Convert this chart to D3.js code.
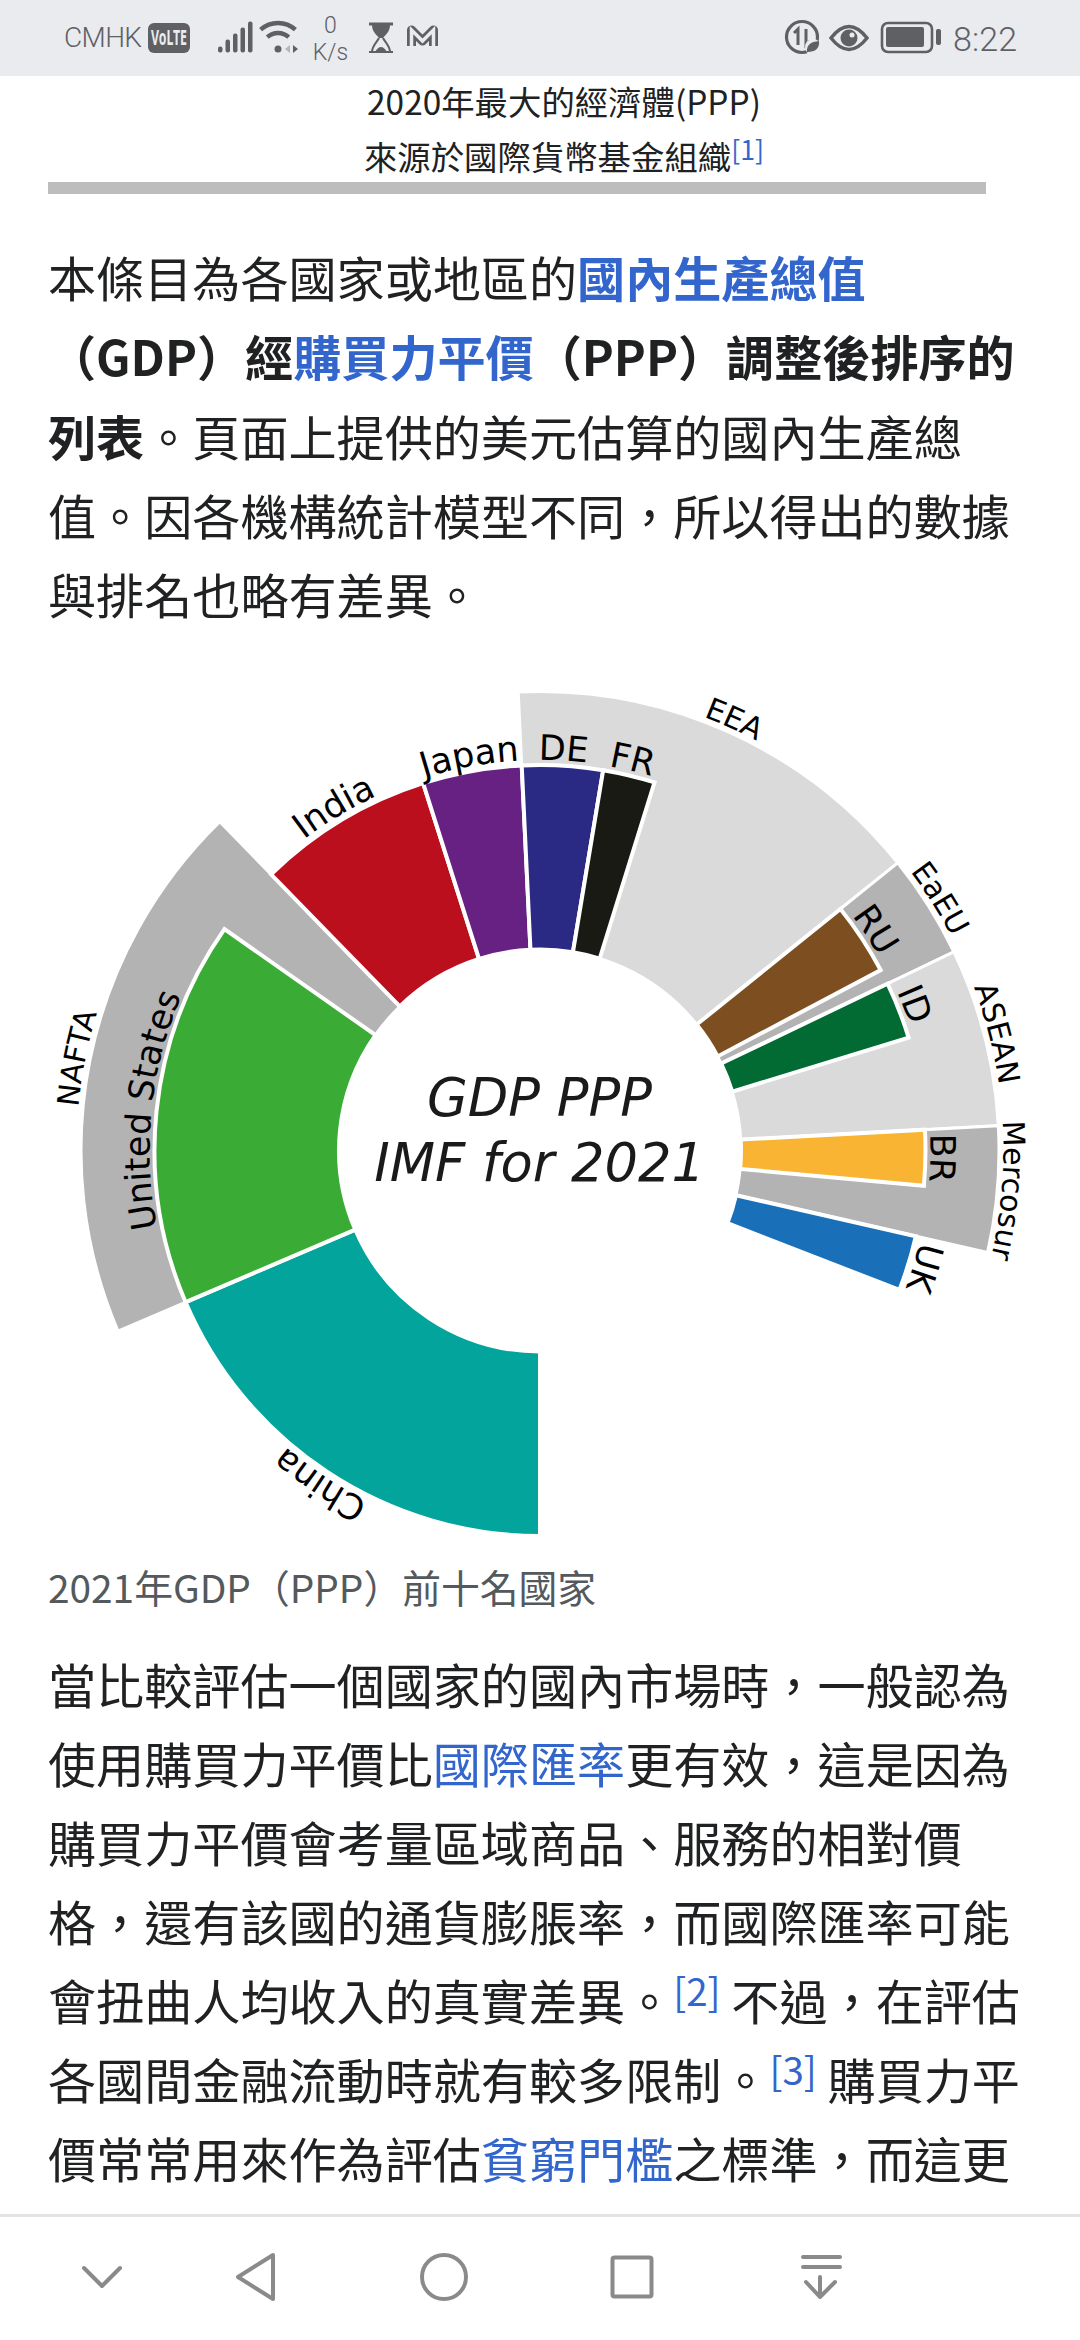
<!DOCTYPE html>
<html>
<head>
<meta charset="utf-8">
<script src="https://cdn.jsdelivr.net/npm/d3@7"></script>
<style>
  html, body { margin: 0; padding: 0; background: #fff; }
  svg { display: block; }
  text { white-space: pre; }
</style>
</head>
<body>
<div id="page"></div>
<script>
/// DATA: one row per slice (trillion USD, PPP)
const sliceNames = ['China', 'United States', '', 'India', 'Japan', 'DE', 'FR', '', 'RU', '', 'ID', '', 'BR', '', 'UK'];
const sliceGdp = [26.4, 23.0, 4.23, 10.5, 5.9, 4.8, 3.1, 13.4, 4.3, 0.9, 3.4, 5.5, 3.3, 3.0, 3.3];
const sliceBloc = ['', 'NAFTA', 'NAFTA', '', '', 'EEA', 'EEA', 'EEA', 'EaEU', 'EaEU', 'ASEAN', 'ASEAN', 'Mercosur', 'Mercosur', ''];
const sliceColors = ['#02a49c', '#3aab35', '', '#bb0f1e', '#662182', '#2a2a85', '#1a1a15', '', '#7c4e20', '', '#026a33', '', '#f8b432', '', '#1a70b8'];
const blocNames = ['NAFTA', 'EEA', 'EaEU', 'ASEAN', 'Mercosur'];
const blocColors = ['#b3b3b3', '#dadada', '#b3b3b3', '#dadada', '#b3b3b3'];
const centerLines = ['GDP PPP', 'IMF for 2021'];

/// PAGE TEXT: [text, kind] with kind b = bold, l = link, bl = bold link, s = footnote
const titleLines = [
  [['2020年最大的經濟體(PPP)', '']],
  [['來源於國際貨幣基金組織', ''], ['[1]', 's']]
];
const introLines = [
  [['本條目為各國家或地區的', ''], ['國內生產總值', 'bl']],
  [['（GDP）經', 'b'], ['購買力平價', 'bl'], ['（PPP）調整後排序的', 'b']],
  [['列表', 'b'], ['。頁面上提供的美元估算的國內生產總', '']],
  [['值。因各機構統計模型不同，所以得出的數據', '']],
  [['與排名也略有差異。', '']]
];
const bodyLines = [
  [['當比較評估一個國家的國內市場時，一般認為', '']],
  [['使用購買力平價比', ''], ['國際匯率', 'l'], ['更有效，這是因為', '']],
  [['購買力平價會考量區域商品、服務的相對價', '']],
  [['格，還有該國的通貨膨脹率，而國際匯率可能', '']],
  [['會扭曲人均收入的真實差異。', ''], ['[2]', 's'], [' 不過，在評估', '']],
  [['各國間金融流動時就有較多限制。', ''], ['[3]', 's'], [' 購買力平', '']],
  [['價常常用來作為評估', ''], ['貧窮門檻', 'l'], ['之標準，而這更', '']]
];
const captionText = '2021年GDP（PPP）前十名國家';

const width = 1080, height = 2340;
const cjk = '"Noto Sans CJK TC", "Noto Sans", sans-serif';
const latin = '"DejaVu Sans", sans-serif';
const inkColor = '#202122', linkColor = '#3366cc', chromeColor = '#5f6064', barColor = '#e9ebef', navColor = '#8a8a8a';

let svg = d3.select('#page').append('svg')
  .attr('width', width)
  .attr('height', height)
  .attr('viewBox', `0 0 ${width} ${height}`);

svg.append('rect').attr('width', width).attr('height', height).attr('fill', '#fff');

/// TEXT helper, footnotes get raised and the next piece comes back down
function writeLine(parent, pieces, x, y, size, anchor) {
  let line = parent.append('text')
    .attr('x', x)
    .attr('y', y)
    .attr('text-anchor', anchor || 'start')
    .style('font-family', cjk)
    .style('font-size', size + 'px')
    .attr('fill', inkColor);
  let raised = 0;
  pieces.forEach(([txt, kind]) => {
    let lift = kind === 's' ? size * 0.3 : 0;
    line.append('tspan')
      .text(txt)
      .attr('dy', raised - lift)
      .style('font-weight', kind === 'b' || kind === 'bl' ? 700 : 400)
      .style('font-size', kind === 's' ? size * 0.8 + 'px' : null)
      .attr('fill', kind === 'l' || kind === 'bl' || kind === 's' ? linkColor : inkColor);
    raised = lift;
  });
  return line;
}

let pageText = svg.append('g').attr('class', 'page');
titleLines.forEach((l, i) => writeLine(pageText, l, 564, 115 + i * 55, 33.4, 'middle'));
pageText.append('rect').attr('x', 48).attr('y', 182).attr('width', 938).attr('height', 12).attr('fill', '#bdbdbd');
introLines.forEach((l, i) => writeLine(pageText, l, 48, 297 + i * 79.3, 48.1));
pageText.append('text')
  .text(captionText)
  .attr('x', 48)
  .attr('y', 1603)
  .style('font-family', cjk)
  .style('font-size', '38.8px')
  .attr('fill', '#54595d');
bodyLines.forEach((l, i) => writeLine(pageText, l, 48, 1704 + i * 79, 48.1));
// next line is hidden behind the nav bar, only the footnote top peeks out
writeLine(pageText, [['[4]', '']], 868, 2244, 34.5).selectAll('tspan').attr('fill', linkColor);

/// SETUP chart
const cx = 540, cy = 1150.5;
const innerR = 201, sliceR = 385.5, blocR = 459, sliceLabelR = 390.5, blocLabelR = 463.5;
const startDeg = 180, endDeg = 471.2;
const rad = d => d * Math.PI / 180;

let chart = svg.append('g').attr('transform', `translate(${cx},${cy})`);
let defs = svg.append('defs');

let slices = d3.pie()
  .sort(null)
  .value(d => d)
  .startAngle(rad(startDeg))
  .endAngle(rad(endDeg))(sliceGdp)
  .map((p, i) => ({
    name: sliceNames[i],
    bloc: sliceBloc[i],
    color: sliceColors[i],
    startAngle: p.startAngle,
    endAngle: p.endAngle
  }));

let blocs = blocNames.map((name, i) => {
  let rows = slices.filter(s => s.bloc === name);
  return {
    name: name,
    color: blocColors[i],
    startAngle: d3.min(rows, s => s.startAngle),
    endAngle: d3.max(rows, s => s.endAngle)
  };
});

let countries = slices.filter(s => s.name !== '');

let blocArc = d3.arc().innerRadius(innerR).outerRadius(blocR);
let sliceArc = d3.arc().innerRadius(innerR).outerRadius(sliceR);

/// BUILD rings
chart.append('g').selectAll('path')
  .data(blocs)
  .join('path')
  .attr('d', blocArc)
  .attr('fill', d => d.color)
  .attr('stroke', '#fff')
  .attr('stroke-width', 3);

chart.append('g').selectAll('path')
  .data(countries)
  .join('path')
  .attr('d', sliceArc)
  .attr('fill', d => d.color)
  .attr('stroke', '#fff')
  .attr('stroke-width', 4);

/// LABELS run clockwise on a hidden arc, so China ends up upside down
function arcLabels(rows, radius, size, prefix) {
  rows.forEach((d, i) => {
    let mid = (d.startAngle + d.endAngle) / 2 - Math.PI / 2;
    let p = d3.path();
    p.arc(0, 0, radius, mid - Math.PI / 2, mid + Math.PI / 2);
    defs.append('path').attr('id', prefix + i).attr('d', p.toString());
    chart.append('text')
      .style('font-family', latin)
      .style('font-size', size + 'px')
      .attr('fill', '#000')
      .append('textPath')
      .attr('href', '#' + prefix + i)
      .attr('startOffset', '50%')
      .attr('text-anchor', 'middle')
      .text(d.name);
  });
}
arcLabels(blocs, blocLabelR, 30, 'bloc');
arcLabels(countries, sliceLabelR, 35, 'slice');

chart.selectAll('.center')
  .data(centerLines)
  .join('text')
  .attr('class', 'center')
  .text(d => d)
  .attr('x', -0.5)
  .attr('y', (d, i) => -34.5 + i * 64.5)
  .attr('text-anchor', 'middle')
  .style('font-family', latin)
  .style('font-style', 'oblique')
  .style('font-size', '52.6px')
  .attr('fill', '#1a1a1a');

/// STATUS BAR
let statusBar = svg.append('g').attr('class', 'status');
statusBar.append('rect').attr('width', width).attr('height', 76).attr('fill', barColor);
const chromeText = (t, x, y, size, anchor) => statusBar.append('text')
  .text(t).attr('x', x).attr('y', y)
  .attr('text-anchor', anchor || 'start')
  .style('font-family', 'Roboto, sans-serif')
  .style('font-weight', 300)
  .style('font-size', size + 'px')
  .attr('fill', chromeColor);
const outline = sel => sel.attr('fill', 'none').attr('stroke', chromeColor);

chromeText('CMHK', 64, 47, 28).attr('textLength', 78);
statusBar.append('rect').attr('x', 148).attr('y', 23).attr('width', 42).attr('height', 30).attr('rx', 6).attr('fill', chromeColor);
statusBar.append('text').text('VoLTE').attr('x', 169).attr('y', 45).attr('text-anchor', 'middle')
  .attr('textLength', 36).attr('lengthAdjust', 'spacingAndGlyphs')
  .style('font-family', '"Liberation Sans Narrow", "Noto Sans", sans-serif').style('font-weight', 700).style('font-size', '21px').attr('fill', barColor);
statusBar.selectAll('.sig').data([6, 13, 19, 25, 31]).join('rect')
  .attr('class', 'sig')
  .attr('x', (d, i) => 218 + i * 7.5).attr('y', d => 52.5 - d)
  .attr('width', 4.5).attr('height', d => d).attr('rx', 2).attr('fill', chromeColor);
statusBar.selectAll('.wifi').data([16, 26]).join('path')
  .attr('class', 'wifi')
  .attr('d', d => { let p = d3.path(); p.arc(278, 49, d, rad(-132), rad(-48)); return p.toString(); })
  .call(outline).attr('stroke-width', 4.5);
statusBar.append('circle').attr('cx', 278).attr('cy', 49).attr('r', 3.5).attr('fill', chromeColor);
statusBar.append('path').attr('d', 'M293 45 l5 4 l-5 4 z').attr('fill', chromeColor);
statusBar.append('path').attr('d', 'M290 45 l-5 4 l5 4 z').attr('fill', '#b4b6ba');
chromeText('0', 330.5, 33, 23, 'middle');
chromeText('K/s', 330.5, 60, 23, 'middle');
statusBar.append('path').attr('d', 'M369 24 H393').call(outline).attr('stroke-width', 3);
statusBar.append('path').attr('d', 'M369 52 H393').call(outline).attr('stroke-width', 2);
statusBar.append('path').attr('d', 'M372 25 H390 C390 32 385 35 383 38 H379 C377 35 372 32 372 25 Z').attr('fill', chromeColor);
statusBar.append('path').attr('d', 'M379 38 C377 42 372 46 372 52 H390 C390 46 385 42 383 38').call(outline).attr('stroke-width', 2);
statusBar.append('path').attr('d', 'M375 52 Q381 42 387 52 Z').attr('fill', chromeColor);
statusBar.append('path').attr('d', 'M411.5 46 V30 L422.5 41 L433.5 30 V46').call(outline).attr('stroke-width', 9).attr('stroke-linejoin', 'round');
statusBar.append('path').attr('d', 'M411.5 46 V30 L422.5 41 L433.5 30 V46').attr('fill', 'none').attr('stroke', barColor).attr('stroke-width', 3.5);
statusBar.append('circle').attr('cx', 802).attr('cy', 37).attr('r', 15.5).call(outline).attr('stroke-width', 3.2);
statusBar.append('path').attr('d', 'M798 45 V29 L794 33 M806 29 V45 L810 41').call(outline).attr('stroke-width', 3);
statusBar.append('circle').attr('cx', 813).attr('cy', 47).attr('r', 8).attr('fill', barColor);
statusBar.append('path').attr('d', 'M807 52 Q806 42 819 41 Q820 52 807 52 Z').attr('fill', chromeColor);
statusBar.append('path').attr('d', 'M831 38 Q849 15 867 38 Q849 61 831 38 Z').call(outline).attr('stroke-width', 3.5);
statusBar.append('circle').attr('cx', 849).attr('cy', 38).attr('r', 8.5).attr('fill', chromeColor);
statusBar.append('circle').attr('cx', 852).attr('cy', 35).attr('r', 2.5).attr('fill', barColor);
statusBar.append('rect').attr('x', 882).attr('y', 23).attr('width', 50).attr('height', 29).attr('rx', 6).call(outline).attr('stroke-width', 2.6);
statusBar.append('rect').attr('x', 886).attr('y', 27).attr('width', 38).attr('height', 20).attr('rx', 2).attr('fill', chromeColor);
statusBar.append('rect').attr('x', 936).attr('y', 29).attr('width', 5).attr('height', 16).attr('rx', 2).attr('fill', chromeColor);
chromeText('8:22', 953, 51, 34).attr('textLength', 64);

/// NAV BAR
let nav = svg.append('g').attr('class', 'nav').attr('fill', 'none').attr('stroke', navColor).attr('stroke-width', 4).attr('stroke-linejoin', 'round').attr('stroke-linecap', 'round');
nav.append('rect').attr('x', 0).attr('y', 2214).attr('width', width).attr('height', 126).attr('fill', '#fff').attr('stroke', 'none');
nav.append('rect').attr('x', 0).attr('y', 2214).attr('width', width).attr('height', 3).attr('fill', '#e2e3e5').attr('stroke', 'none');
nav.append('path').attr('d', 'M84 2268 L102 2286 L120 2268');
nav.append('path').attr('d', 'M273 2255 L238 2277 L273 2299 Z');
nav.append('circle').attr('cx', 444).attr('cy', 2277).attr('r', 22);
nav.append('rect').attr('x', 612.5).attr('y', 2257.5).attr('width', 39).attr('height', 39).attr('rx', 2);
nav.append('path').attr('d', 'M803 2257 H840 M803 2267 H840 M820 2277 V2297 M806 2282 L820 2297 L835 2282');
</script>
</body>
</html>
